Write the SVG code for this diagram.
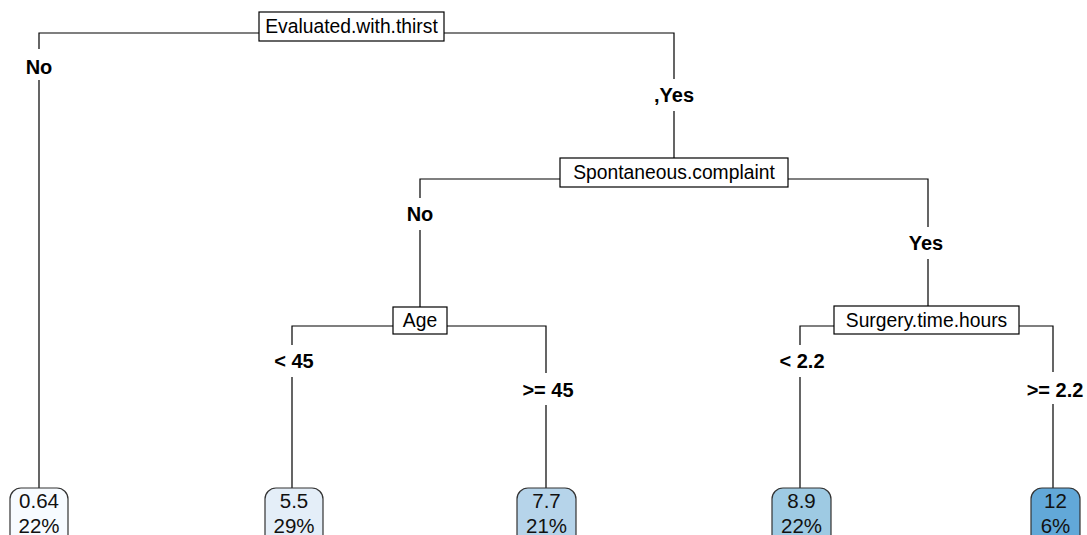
<svg xmlns="http://www.w3.org/2000/svg" width="1087" height="535" viewBox="0 0 1087 535">
<style>
.bg{fill:#ffffff}
.edge{fill:none;stroke:#000;stroke-width:1.2}
.split{fill:#fff;stroke:#000;stroke-width:1.2}
.stext{font-family:"Liberation Sans",Arial,sans-serif;font-size:19.3px;fill:#000;text-anchor:middle}
.lab{font-family:"Liberation Sans",Arial,sans-serif;font-size:20px;font-weight:bold;fill:#000;text-anchor:middle}
.leaf{stroke:#333;stroke-width:1.2}
.ltext{font-family:"Liberation Sans",Arial,sans-serif;font-size:20.5px;fill:#111;text-anchor:middle}
</style>
<rect class="bg" x="0" y="0" width="1087" height="535"/>
<g id="connectors">
<path class="edge" d="M259,33 H39 V49 M39,80 V488"/>
<path class="edge" d="M444,33 H674 V79 M674,111 V158"/>
<path class="edge" d="M560,179 H420 V198 M420,230 V307"/>
<path class="edge" d="M788,179 H928 V227 M928,259 V306"/>
<path class="edge" d="M393,326 H292 V345 M292,377 V488"/>
<path class="edge" d="M447,326 H546 V373 M546,405 V488"/>
<path class="edge" d="M834,326 H800 V345 M800,377 V488"/>
<path class="edge" d="M1019,326 H1053 V372 M1053,404 V488"/>
<text class="lab" x="39" y="74">No</text>
<text class="lab" x="674" y="102">,Yes</text>
<text class="lab" x="420" y="221">No</text>
<text class="lab" x="926" y="250">Yes</text>
<text class="lab" x="294" y="368">&lt; 45</text>
<text class="lab" x="548" y="397">&gt;= 45</text>
<text class="lab" x="802" y="368">&lt; 2.2</text>
<text class="lab" x="1055" y="397">&gt;= 2.2</text>
</g>
<g id="node-root">
<rect class="split" x="259" y="12" width="185" height="29"/>
<text class="stext" x="351.5" y="33">Evaluated.with.thirst</text>
</g>
<g id="node-spont">
<rect class="split" x="560" y="158" width="228" height="29"/>
<text class="stext" x="674" y="179">Spontaneous.complaint</text>
</g>
<g id="node-age">
<rect class="split" x="393" y="307" width="54" height="27"/>
<text class="stext" x="420" y="327">Age</text>
</g>
<g id="node-surgery">
<rect class="split" x="834" y="306" width="185" height="28"/>
<text class="stext" x="926.5" y="327">Surgery.time.hours</text>
</g>
<g id="leaf-1">
<rect class="leaf" x="10" y="488" width="58" height="60" rx="11" fill="#f7fbff"/>
<text class="ltext" x="39" y="508">0.64</text>
<text class="ltext" x="39" y="533">22%</text>
</g>
<g id="leaf-2">
<rect class="leaf" x="265" y="488" width="58" height="60" rx="11" fill="#e4eef8"/>
<text class="ltext" x="294" y="508">5.5</text>
<text class="ltext" x="294" y="533">29%</text>
</g>
<g id="leaf-3">
<rect class="leaf" x="517" y="488" width="59" height="60" rx="11" fill="#b6d4ea"/>
<text class="ltext" x="546.5" y="508">7.7</text>
<text class="ltext" x="546.5" y="533">21%</text>
</g>
<g id="leaf-4">
<rect class="leaf" x="772" y="488" width="59" height="60" rx="11" fill="#9ecae3"/>
<text class="ltext" x="801.5" y="508">8.9</text>
<text class="ltext" x="801.5" y="533">22%</text>
</g>
<g id="leaf-5">
<rect class="leaf" x="1031" y="488" width="49" height="60" rx="11" fill="#62a8d8"/>
<text class="ltext" x="1055.5" y="508">12</text>
<text class="ltext" x="1055.5" y="533">6%</text>
</g>
</svg>
